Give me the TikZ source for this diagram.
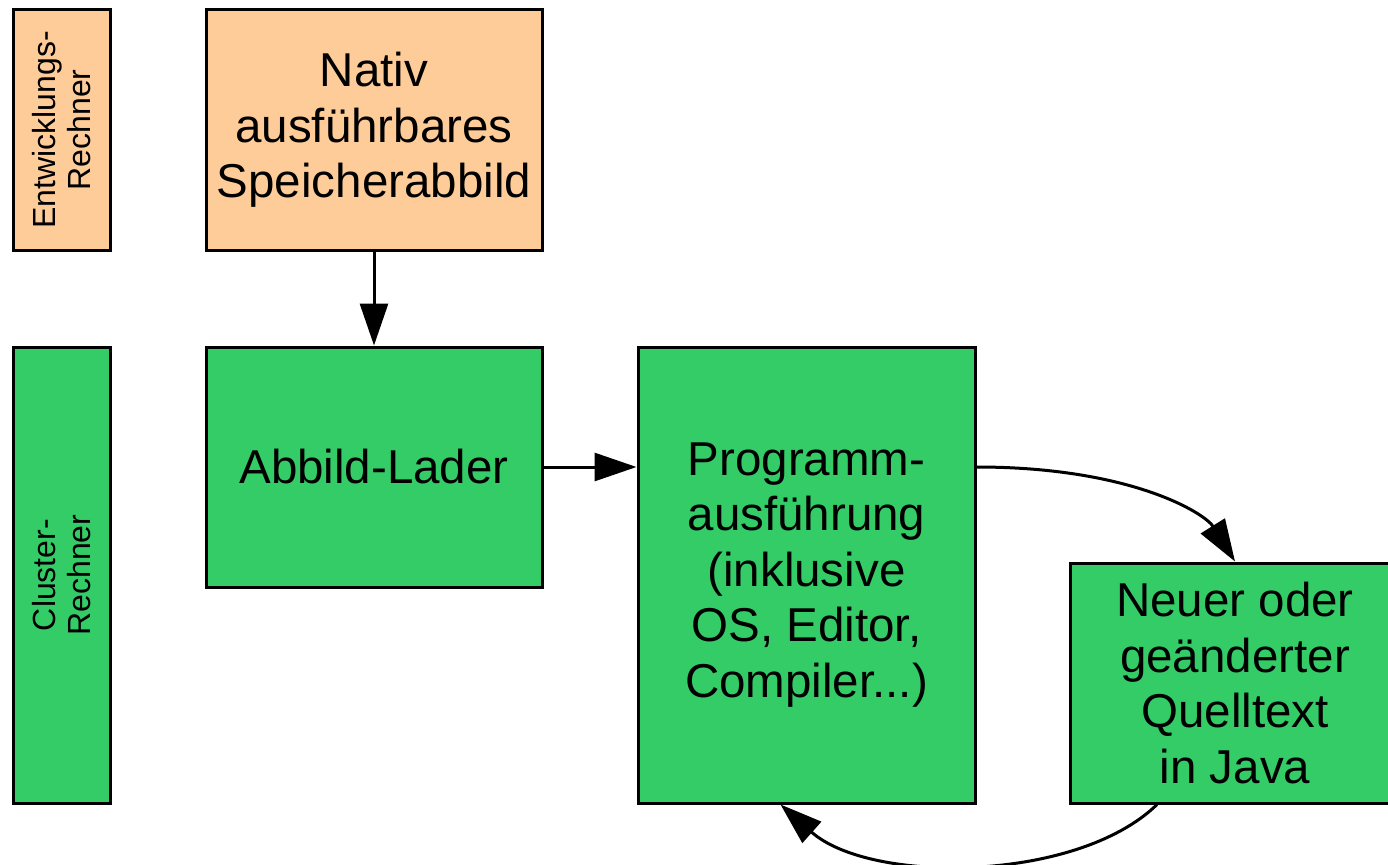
\documentclass[tikz,border=0pt]{standalone}
\usepackage{fontspec}
\setmainfont{Liberation Sans}
\usetikzlibrary{arrows.meta}
\definecolor{devorange}{RGB}{254,204,153}
\definecolor{clustergreen}{RGB}{51,204,102}
\tikzset{
  box/.style={draw=black, line width=3pt, inner sep=0pt, align=center,
    font=\fontsize{47.5}{55.5}\selectfont},
  sidebox/.style={box, rotate=90, font=\fontsize{32}{35}\selectfont},
  flow/.style={line width=3pt, -{Triangle[length=42pt,width=28pt]}},
}
\begin{document}
\begin{tikzpicture}[x=1pt,y=-1pt]
  \useasboundingbox (0,0) rectangle (1388,864);
  \begin{scope}
  \clip (0,0) rectangle (1388,864);
  % machine labels on the left
  \node[sidebox, fill=devorange, minimum width=240pt, minimum height=97pt]
    (dev) at (61.5,130) {Entwicklungs-\\Rechner};
  \node[sidebox, fill=clustergreen, minimum width=456pt, minimum height=97pt]
    (cluster) at (61.5,575) {Cluster-\\Rechner};
  % processing stages
  \node[box, fill=devorange, minimum width=336pt, minimum height=240pt]
    (image) at (374,130) {Nativ\\ausführbares\\Speicherabbild};
  \node[box, fill=clustergreen, minimum width=336pt, minimum height=240pt]
    (loader) at (374,467) {Abbild-Lader};
  \node[box, fill=clustergreen, minimum width=337pt, minimum height=456pt]
    (run) at (806.5,575) {Programm-\\ausführung\\(inklusive\\OS, Editor,\\Compiler...)};
  \node[box, fill=clustergreen, minimum width=330pt, minimum height=240pt]
    (source) at (1235,683) {Neuer oder\\geänderter\\Quelltext\\in Java};
  % connectors
  \coordinate (runin) at (loader.east -| run.west);
  \coordinate (runout) at (loader.east -| run.east);
  \draw[flow] (image.south) -- (loader.north);
  \draw[flow] (loader.east) -- (runin);
  \draw[flow] (runout) .. controls +(155,0) and +(-30,-48) .. (source.north);
  \draw[flow] ([xshift=-78pt]source.south) .. controls +(-80,78) and +(90,80) .. ([xshift=-26pt]run.south);
  \end{scope}
\end{tikzpicture}
\end{document}
